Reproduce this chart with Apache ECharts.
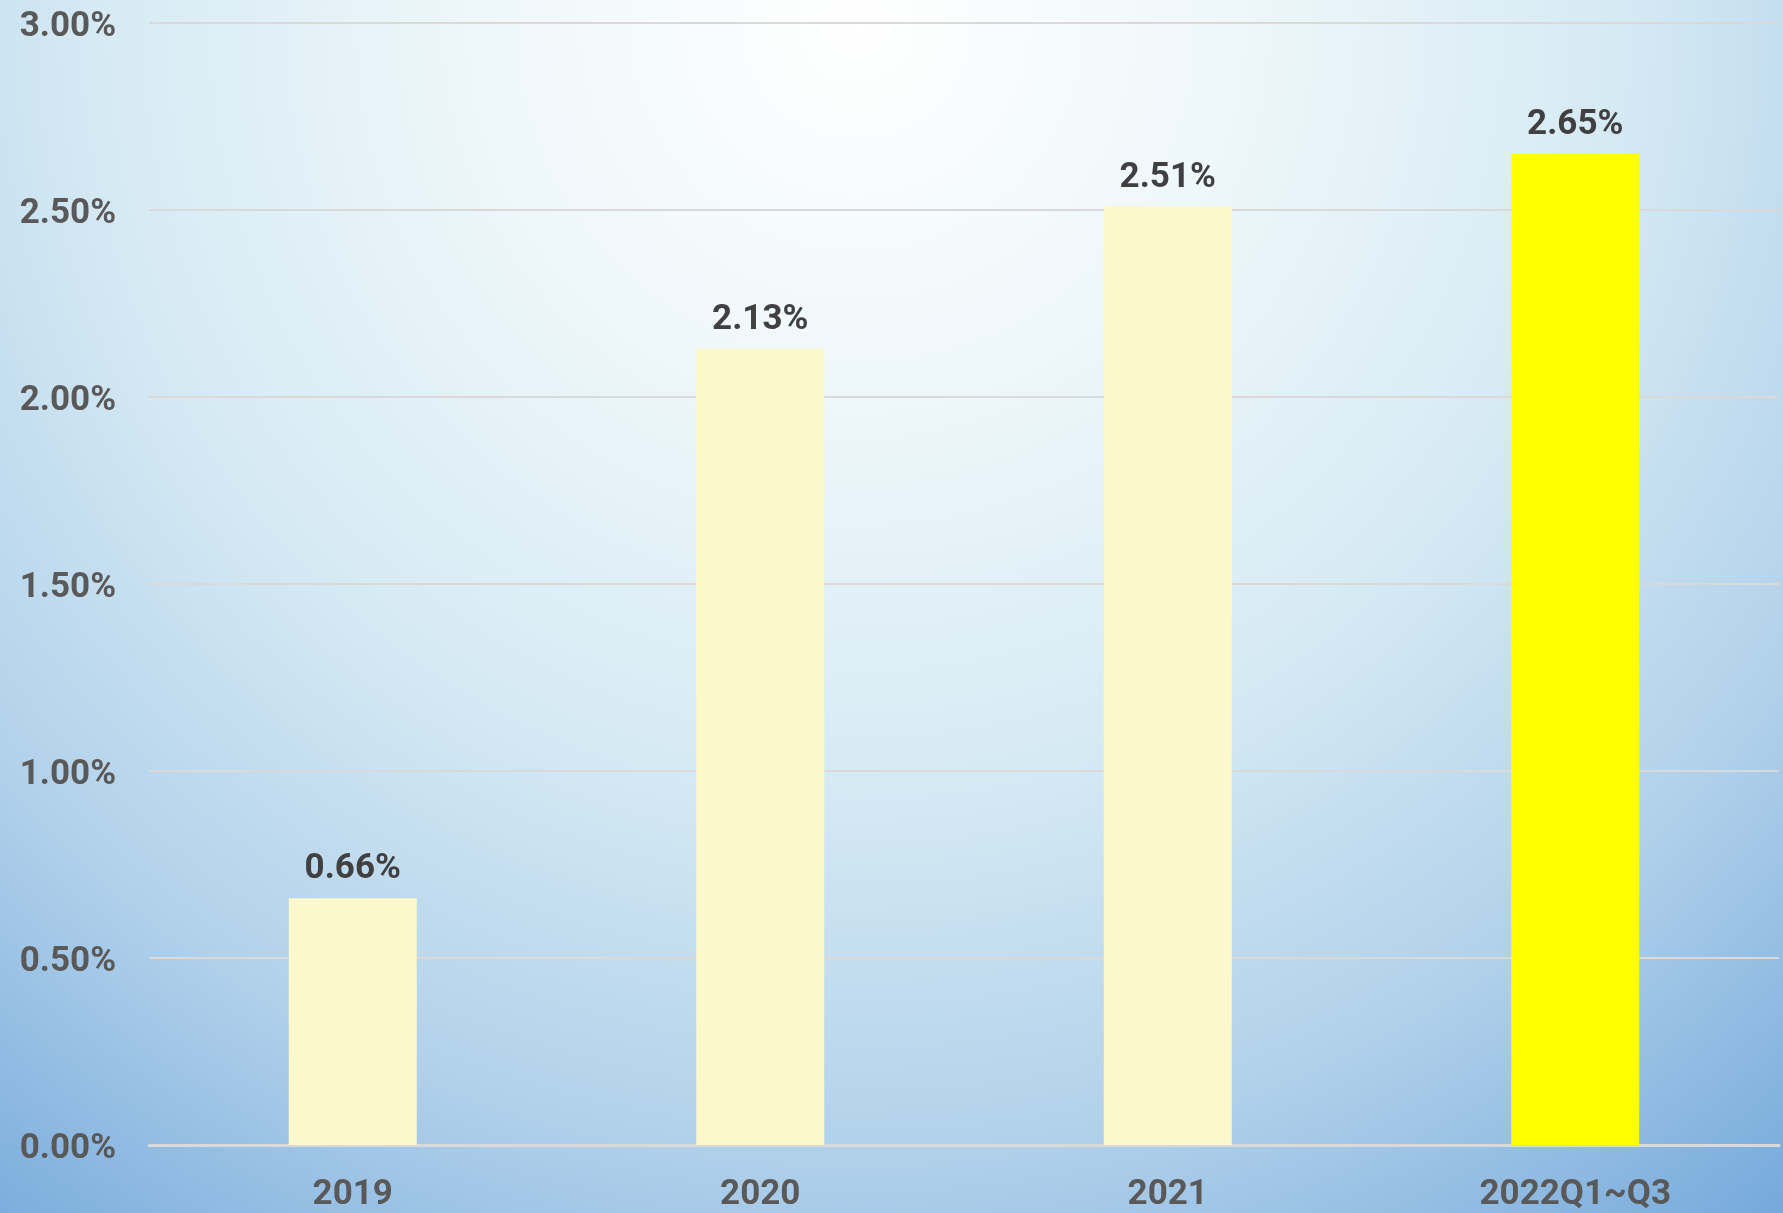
<!DOCTYPE html>
<html>
<head>
<meta charset="utf-8">
<style>
  html, body { margin: 0; padding: 0; }
  #chart { width: 1783px; height: 1213px; }
</style>
<script src="https://cdn.jsdelivr.net/npm/echarts@6/dist/echarts.min.js"></script>
</head>
<body>
<div id="chart"></div>
<script>
    // 数据
    const categories = ['2019', '2020', '2021', '2022Q1~Q3'];
    const values = [0.66, 2.13, 2.51, 2.65];
    const barColors = ['#fbf8cc', '#fbf8cc', '#fbf8cc', '#ffff00'];

    const chartDom = document.getElementById('chart');
    const myChart = echarts.init(chartDom);

    const fontFamily = 'Roboto, "Noto Sans", sans-serif';

    const option = {
        backgroundColor: {
            type: 'radial',
            x: 0.48,
            y: 0.02,
            r: 1.25,
            colorStops: [
                { offset: 0, color: '#ffffff' },
                { offset: 0.25, color: '#eef7fa' },
                { offset: 0.5, color: '#d6eaf4' },
                { offset: 0.75, color: '#b0d0ea' },
                { offset: 1, color: '#74a8db' }
            ]
        },
        grid: {
            left: 149,
            right: 4,
            top: 23,
            bottom: 68
        },
        xAxis: {
            type: 'category',
            data: categories,
            axisTick: { show: false },
            axisLine: {
                lineStyle: { color: '#d9d9d9', width: 3 }
            },
            axisLabel: {
                color: '#595959',
                fontSize: 35,
                fontWeight: 'bold',
                fontFamily: fontFamily,
                margin: 33
            }
        },
        yAxis: {
            type: 'value',
            min: 0,
            max: 3,
            interval: 0.5,
            axisLine: { show: false },
            axisTick: { show: false },
            splitLine: {
                lineStyle: { color: '#d9d9d9', width: 2 }
            },
            axisLabel: {
                margin: 33,
                formatter: v => '{t|' + v.toFixed(2) + '%}',
                rich: {
                    t: {
                        color: '#595959',
                        fontSize: 35,
                        fontWeight: 'bold',
                        fontFamily: fontFamily,
                        padding: [9, 0, 0, 0]
                    }
                }
            }
        },
        series: [{
            type: 'bar',
            barWidth: 128,
            data: values.map((v, i) => ({
                value: v,
                itemStyle: { color: barColors[i] }
            })),
            label: {
                show: true,
                position: 'top',
                distance: 11,
                color: '#404040',
                fontSize: 35,
                fontWeight: 'bold',
                fontFamily: fontFamily,
                formatter: p => p.value.toFixed(2) + '%'
            }
        }]
    };

    myChart.setOption(option);

    window.addEventListener('resize', () => {
        myChart.resize();
    });
</script>
</body>
</html>
